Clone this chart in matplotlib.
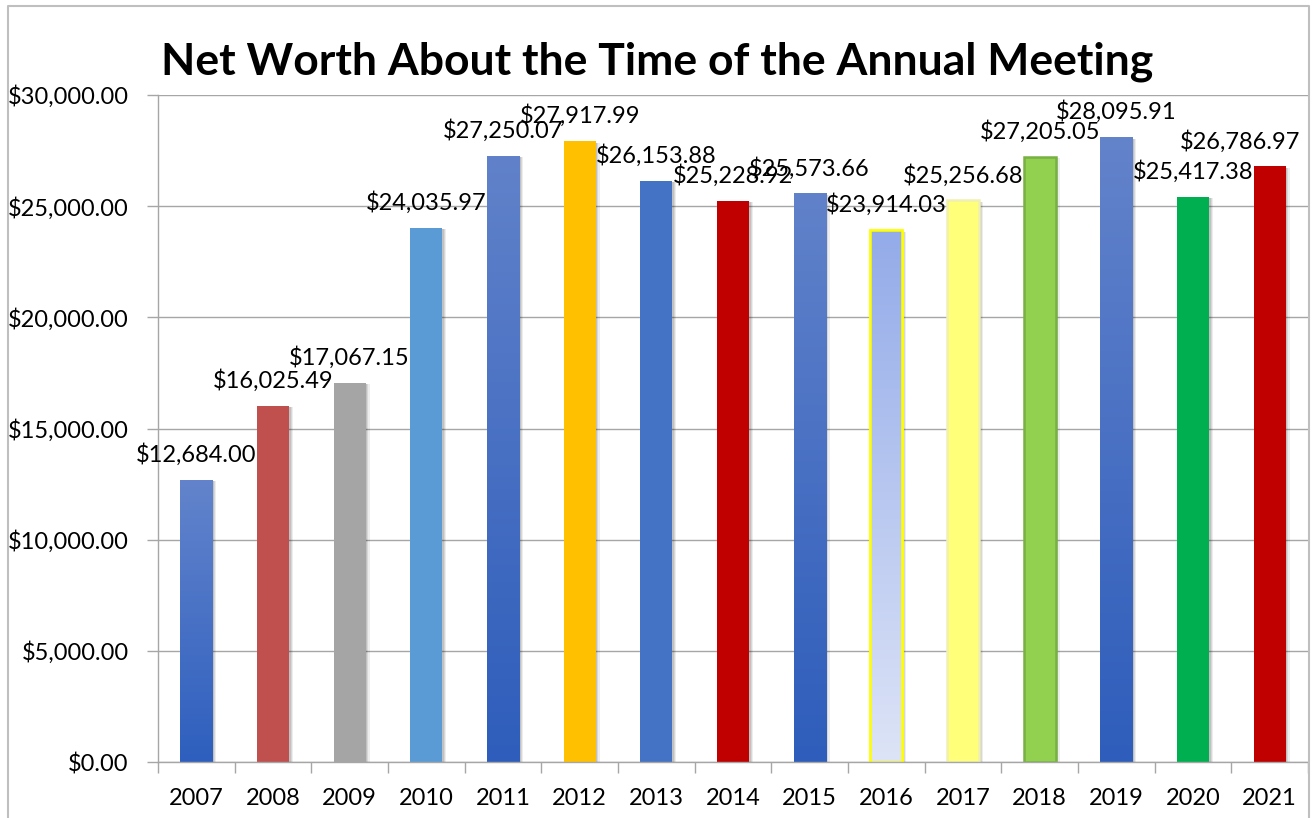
import numpy as np
import matplotlib
matplotlib.use('Agg')
import matplotlib.pyplot as plt
from matplotlib.colors import LinearSegmentedColormap
from matplotlib.lines import Line2D

years = ['2007', '2008', '2009', '2010', '2011', '2012', '2013', '2014',
         '2015', '2016', '2017', '2018', '2019', '2020', '2021']
net_worth = [12684.00, 16025.49, 17067.15, 24035.97, 27250.07, 27917.99,
             26153.88, 25228.92, 25573.66, 23914.03, 25256.68, 27205.05,
             28095.91, 25417.38, 26786.97]

# fill style per bar: solid colour, or (top, bottom) gradient
fills = [('#6384CC', '#2E5FBE'), '#C0504D', '#A5A5A5', '#5B9BD5',
         ('#6182CA', '#2E5DBB'), '#FFC000', '#4472C4', '#C00000',
         ('#6182CA', '#2E5DBB'), ('#93ABE9', '#DDE4F7'), '#FFFF7A',
         '#92D050', ('#6383CB', '#2E5DBB'), '#00B050', '#C00000']
edges = [None] * 15
edges[9] = '#FFFF00'
edges[10] = '#F0F0B0'
edges[11] = '#78B043'

# last label is pushed left so it stays inside the chart
label_dx = [0] * 14 + [-21]

plt.rcParams['font.family'] = ['Lato', 'DejaVu Sans']

fig = plt.figure(figsize=(13.14, 8.18), dpi=100)
ax = fig.add_axes([158/1314, 1-762/818, 1150/1314, 667/818])

x = np.arange(len(years))
w = 0.42
grid_c = '#A6A6A6'

# soft shadows
for dx, a in [(0.045, 0.07), (0.03, 0.09), (0.015, 0.10)]:
    ax.bar(x + dx, np.array(net_worth), width=w + 0.01, bottom=-60,
           color='#000000', alpha=a, zorder=2, linewidth=0)

for i in range(len(years)):
    f = fills[i]
    solid = f if isinstance(f, str) else f[0]
    bar = ax.bar(x[i], net_worth[i], width=w, color=solid, zorder=3,
                 edgecolor=edges[i] if edges[i] else 'none',
                 linewidth=1.8 if edges[i] else 0)[0]
    if not isinstance(f, str):
        cmap = LinearSegmentedColormap.from_list('g', [f[1], f[0]])
        grad = np.linspace(0, 1, 256).reshape(-1, 1)
        im = ax.imshow(grad, extent=(x[i] - w/2, x[i] + w/2, 0, net_worth[i]),
                       origin='lower', aspect='auto', cmap=cmap, zorder=3.5)
        im.set_clip_path(bar)
        if edges[i]:
            ax.bar(x[i], net_worth[i], width=w, facecolor='none',
                   edgecolor=edges[i], linewidth=1.8, zorder=4)
    ax.annotate('${:,.2f}'.format(net_worth[i]), (x[i], net_worth[i]),
                xytext=(label_dx[i], 13), textcoords='offset points',
                ha='center', va='baseline', fontsize=17, zorder=5)

ax.set_xlim(-0.5, len(years) - 0.5)
ax.set_ylim(0, 30000)
ax.set_yticks(np.arange(0, 30001, 5000))
ax.set_yticklabels(['${:,.2f}'.format(v) for v in np.arange(0, 30001, 5000)])
ax.set_xticks(x)
ax.set_xticklabels(years)
ax.set_xticks(np.arange(-0.5, len(years)), minor=True)
ax.tick_params(axis='x', which='major', length=0, pad=19, labelsize=17)
ax.tick_params(axis='x', which='minor', length=8, color=grid_c, width=1)
ax.tick_params(axis='y', length=8, color=grid_c, width=1, pad=13, labelsize=17)

ax.grid(axis='y', color=grid_c, linewidth=1)
ax.set_axisbelow(True)
for s in ['top', 'right']:
    ax.spines[s].set_visible(False)
for s in ['left', 'bottom']:
    ax.spines[s].set_color(grid_c)
    ax.spines[s].set_linewidth(1)
ax.spines['bottom'].set_zorder(6)

fig.text(0.5, 1 - 74/818, 'Net Worth About the Time of the Annual Meeting',
         ha='center', va='baseline', fontsize=32, fontweight='bold')

# outer chart frame
fx0, fx1, fy1 = 8/1314, 1309/1314, 1 - 5.5/818
fig.add_artist(Line2D([fx0, fx0, fx1, fx1], [-0.1, fy1, fy1, -0.1],
                      transform=fig.transFigure, color='#BFBFBF', lw=1.5))

fig.savefig('out.png', dpi=100)
